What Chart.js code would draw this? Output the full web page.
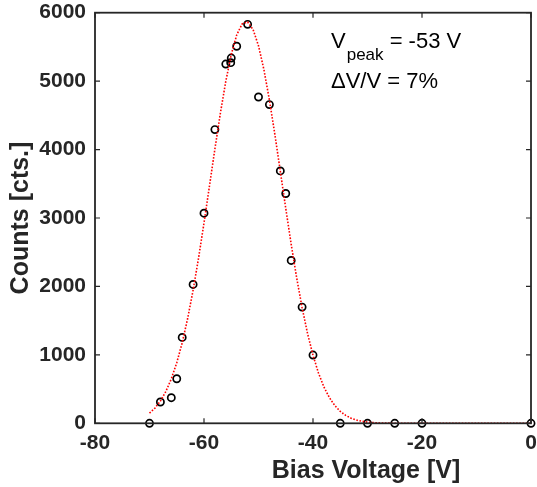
<!DOCTYPE html>
<html>
<head>
<meta charset="utf-8">
<script src="https://cdn.jsdelivr.net/npm/chart.js@4/dist/chart.umd.min.js"></script>
<style>
  html, body { margin: 0; padding: 0; background: #ffffff; }
  #wrap { width: 537px; height: 487px; position: relative; }
</style>
</head>
<body>
<div id="wrap"><canvas id="c" width="537" height="487"></canvas></div>
<script>
// Measured counts versus bias voltage
const biasVoltage = [-70, -68, -66, -65, -64, -62, -60, -58, -56, -55.1, -55, -54, -52, -50, -48, -46, -45, -44, -42, -40, -35, -30, -25, -20, 0];
const counts      = [0, 311, 374, 651, 1255, 2029, 3070, 4292, 5250, 5270, 5337, 5510, 5830, 4768, 4657, 3688, 3358, 2380, 1698, 997, 0, 0, 0, 0, 0];

// Gaussian fit curve, sampled along the voltage axis
const fitVoltage = [-70, -69, -68, -67, -66, -65, -64, -63, -62, -61, -60, -59, -58, -57, -56, -55, -54, -53, -52, -51,
                    -50, -49, -48, -47, -46, -45, -44, -43, -42, -41, -40, -39, -38, -37, -36, -35, -34, -33, -32, -31,
                    -30, -29, -28, -27, -26, -25, -20, -15, -10, -5, 0];
const fitCounts  = [149, 222, 325, 465, 649, 884, 1177, 1531, 1945, 2414, 2927, 3466, 4009, 4529, 4998, 5389, 5675, 5836, 5864, 5755,
                    5517, 5166, 4725, 4222, 3684, 3141, 2615, 2127, 1690, 1311, 994, 736, 532, 376, 259, 175, 115, 74, 47, 29,
                    17, 10, 6, 3, 2, 1, 0, 0, 0, 0, 0];

// Axis ticks
const xTicks = [-80, -60, -40, -20, 0];
const yTicks = [0, 1000, 2000, 3000, 4000, 5000, 6000];

const axisColor = '#262626';
const fontFamily = '"Liberation Sans", Arial, Helvetica, sans-serif';

const measured = biasVoltage.map((v, i) => ({ x: v, y: counts[i] }));
const fitted = fitVoltage.map((v, i) => ({ x: v, y: fitCounts[i] }));

function noScalePadding(s) {
  s.paddingTop = 0; s.paddingBottom = 0; s.paddingLeft = 0; s.paddingRight = 0;
}

// Box around the plot, inward tick marks, x-axis title and the fit annotation
const framePlugin = {
  id: 'frame',
  afterDraw(chart) {
    const ctx = chart.ctx;
    const a = chart.chartArea;
    const xs = chart.scales.x, ys = chart.scales.y;
    ctx.save();
    ctx.strokeStyle = axisColor;
    ctx.lineWidth = 1.8;
    ctx.strokeRect(a.left, a.top, a.right - a.left, a.bottom - a.top);
    const tl = 5;
    ctx.lineWidth = 1.2;
    ctx.beginPath();
    xTicks.forEach(t => {
      const px = xs.getPixelForValue(t);
      ctx.moveTo(px, a.bottom); ctx.lineTo(px, a.bottom - tl);
      ctx.moveTo(px, a.top); ctx.lineTo(px, a.top + tl);
    });
    yTicks.forEach(t => {
      const py = ys.getPixelForValue(t);
      ctx.moveTo(a.left, py); ctx.lineTo(a.left + tl, py);
      ctx.moveTo(a.right, py); ctx.lineTo(a.right - tl, py);
    });
    ctx.stroke();

    // x-axis title
    ctx.fillStyle = axisColor;
    ctx.font = 'bold 25px ' + fontFamily;
    ctx.textAlign = 'center';
    ctx.textBaseline = 'alphabetic';
    ctx.fillText('Bias Voltage [V]', 366, 478);

    // fit annotation
    ctx.textAlign = 'left';
    ctx.fillStyle = '#000000';
    const tx = a.left + 236;
    ctx.font = '22px ' + fontFamily;
    ctx.fillText('V', tx, a.top + 35.5);
    const vW = ctx.measureText('V').width;
    ctx.font = '17px ' + fontFamily;
    ctx.fillText('peak', tx + vW + 1, a.top + 47);
    const pW = ctx.measureText('peak').width;
    ctx.font = '22px ' + fontFamily;
    ctx.fillText(' = -53 V', tx + vW + pW + 1, a.top + 35.5);
    ctx.fillText('\u0394V/V = 7%', tx, a.top + 75.5);
    ctx.restore();
  }
};

new Chart(document.getElementById('c'), {
  type: 'scatter',
  data: {
    datasets: [
      {
        label: 'Gaussian fit',
        data: fitted,
        showLine: true,
        borderColor: '#ff0000',
        borderWidth: 1.6,
        borderDash: [1.6, 1.6],
        pointRadius: 0,
        tension: 0,
        fill: false,
        clip: false,
        order: 0
      },
      {
        label: 'Counts',
        data: measured,
        showLine: false,
        pointStyle: 'circle',
        pointRadius: 3.6,
        pointBorderWidth: 1.7,
        pointBorderColor: '#000000',
        pointBackgroundColor: 'rgba(0,0,0,0)',
        clip: false,
        order: 1
      }
    ]
  },
  options: {
    responsive: false,
    animation: false,
    events: [],
    layout: { padding: { top: 12.7, right: 6, left: 0, bottom: 0 } },
    plugins: { legend: { display: false }, tooltip: { enabled: false } },
    scales: {
      x: {
        type: 'linear',
        min: -80, max: 0,
        afterBuildTicks: s => { s.ticks = xTicks.map(v => ({ value: v })); },
        afterFit: s => { s.height = 63.7; noScalePadding(s); },
        grid: { display: false, drawTicks: false },
        border: { display: false },
        ticks: {
          color: axisColor,
          padding: 7,
          maxRotation: 0,
          autoSkip: false,
          callback: v => String(v),
          font: { family: fontFamily, size: 21, weight: 'bold' }
        }
      },
      y: {
        type: 'linear',
        min: 0, max: 6000,
        afterBuildTicks: s => { s.ticks = yTicks.map(v => ({ value: v })); },
        afterFit: s => { s.width = 95; noScalePadding(s); },
        grid: { display: false, drawTicks: false },
        border: { display: false },
        title: {
          display: true,
          text: 'Counts [cts.]',
          color: axisColor,
          padding: { top: 6, bottom: 0 },
          font: { family: fontFamily, size: 25, weight: 'bold' }
        },
        ticks: {
          color: axisColor,
          padding: 9,
          autoSkip: false,
          callback: v => String(v),
          font: { family: fontFamily, size: 21, weight: 'bold' }
        }
      }
    }
  },
  plugins: [framePlugin]
});
</script>
</body>
</html>
